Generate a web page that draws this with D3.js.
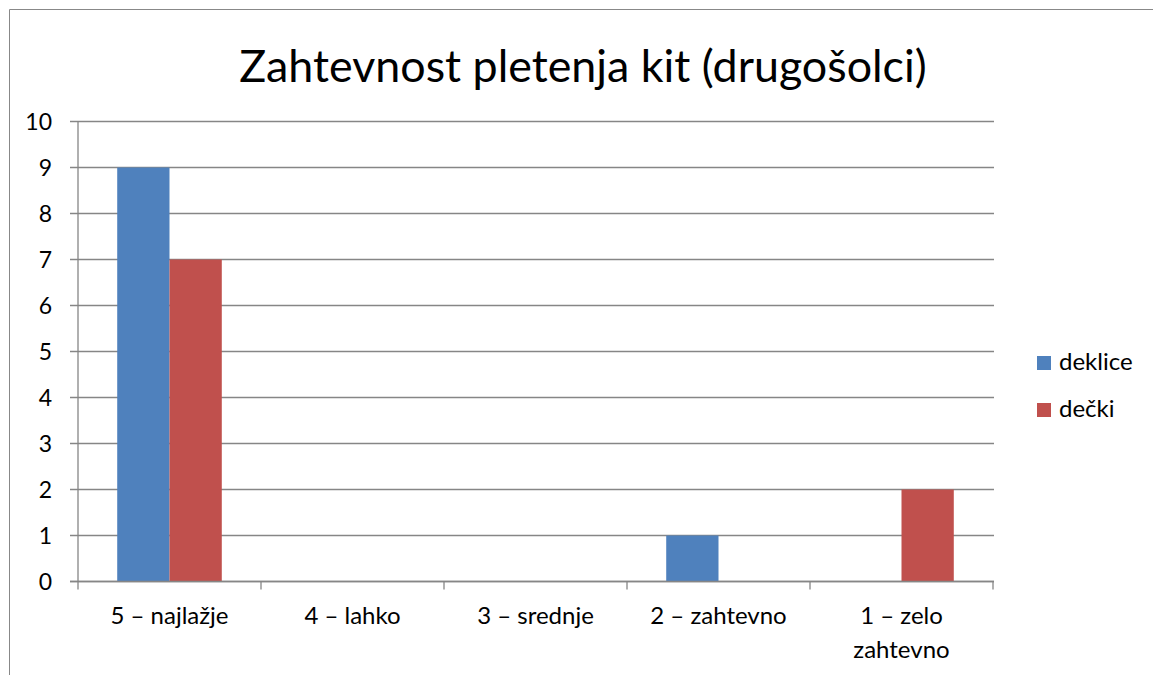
<!DOCTYPE html>
<html>
<head>
<meta charset="utf-8">
<script src="https://cdn.jsdelivr.net/npm/d3@7"></script>
<style>
  html, body { margin: 0; padding: 0; background: #fff; }
  svg text { font-family: Lato, "Noto Sans", sans-serif; fill: #000; }
</style>
</head>
<body>
<svg id="chart" width="1153" height="675"></svg>
<script>
// chart data
const title = "Zahtevnost pletenja kit (drugošolci)";
const categories = ["5 – najlažje", "4 – lahko", "3 – srednje", "2 – zahtevno", "1 – zelo zahtevno"];
const seriesNames = ["deklice", "dečki"];
const deklice = [9, 0, 0, 1, 0];
const decki = [7, 0, 0, 0, 2];
const yTicks = [0, 1, 2, 3, 4, 5, 6, 7, 8, 9, 10];
const colors = ["#4F81BD", "#C0504D"];

const values = [deklice, decki];
const rows = categories.map((c, i) => ({
  cat: c,
  vals: seriesNames.map((s, j) => ({ key: s, value: values[j][i] }))
}));

const svg = d3.select("#chart");
const left = 78, right = 993;

// outer frame (only top and left edges show in the picture)
svg.append("path")
  .attr("d", "M9.5,675 V9.5 H1153")
  .attr("fill", "none")
  .attr("stroke", "#888")
  .attr("stroke-width", 1);

const x0 = d3.scaleBand()
  .domain(categories)
  .range([left, right])
  .paddingInner(0)
  .paddingOuter(0);

const x1 = d3.scaleBand()
  .domain(seriesNames)
  .range([0, x0.bandwidth()])
  .paddingInner(0)
  .paddingOuter(0.75);

const y = d3.scaleLinear()
  .domain([0, 10])
  .range([581.5, 121.5]);

// gridlines
svg.append("g")
  .selectAll("line")
  .data(yTicks)
  .join("line")
  .attr("x1", left - 8)
  .attr("x2", right + 1)
  .attr("y1", d => y(d))
  .attr("y2", d => y(d))
  .attr("stroke", "#868686")
  .attr("stroke-width", 1.3);

// y labels
svg.append("g")
  .selectAll("text")
  .data(yTicks)
  .join("text")
  .attr("x", 52)
  .attr("y", d => y(d))
  .attr("dy", "0.36em")
  .attr("text-anchor", "end")
  .style("font-size", "23px")
  .text(d => d);

// bars
svg.append("g")
  .selectAll("g")
  .data(rows)
  .join("g")
  .attr("transform", d => `translate(${x0(d.cat)},0)`)
  .selectAll("rect")
  .data(d => d.vals)
  .join("rect")
  .attr("x", d => x1(d.key))
  .attr("width", x1.bandwidth())
  .attr("y", d => y(d.value))
  .attr("height", d => y(0) - y(d.value))
  .attr("fill", (d, i) => colors[i]);

// axis lines
svg.append("line")
  .attr("x1", left).attr("x2", left)
  .attr("y1", y(10)).attr("y2", y(0))
  .attr("stroke", "#868686").attr("stroke-width", 1.3);

svg.append("line")
  .attr("x1", left - 8).attr("x2", right + 1)
  .attr("y1", y(0)).attr("y2", y(0))
  .attr("stroke", "#868686").attr("stroke-width", 1.3);

// category ticks
const catTicks = categories.map(c => x0(c)).concat([right]);
svg.append("g")
  .selectAll("line")
  .data(catTicks)
  .join("line")
  .attr("x1", d => d).attr("x2", d => d)
  .attr("y1", y(0)).attr("y2", y(0) + 8)
  .attr("stroke", "#868686").attr("stroke-width", 1.3);

// category labels (last one wraps like the original)
const catLines = c => c === "1 – zelo zahtevno" ? ["1 – zelo", "zahtevno"] : [c];
svg.append("g")
  .selectAll("text")
  .data(categories)
  .join("text")
  .attr("x", d => x0(d) + x0.bandwidth() / 2)
  .attr("y", 624)
  .attr("text-anchor", "middle")
  .style("font-size", "24px")
  .selectAll("tspan")
  .data(d => catLines(d))
  .join("tspan")
  .attr("x", function () { return this.parentNode.getAttribute("x"); })
  .attr("dy", (d, i) => i === 0 ? 0 : 34)
  .text(d => d);

// title
svg.append("text")
  .attr("x", 583)
  .attr("y", 82)
  .attr("text-anchor", "middle")
  .style("font-size", "44.8px")
  .text(title);

// legend
const legend = svg.append("g")
  .selectAll("g")
  .data(seriesNames)
  .join("g")
  .attr("transform", (d, i) => `translate(1037,${356 + i * 47})`);

legend.append("rect")
  .attr("width", 14)
  .attr("height", 14)
  .attr("fill", (d, i) => colors[i]);

legend.append("text")
  .attr("x", 22)
  .attr("y", 14)
  .style("font-size", "24px")
  .text(d => d);
</script>
</body>
</html>
